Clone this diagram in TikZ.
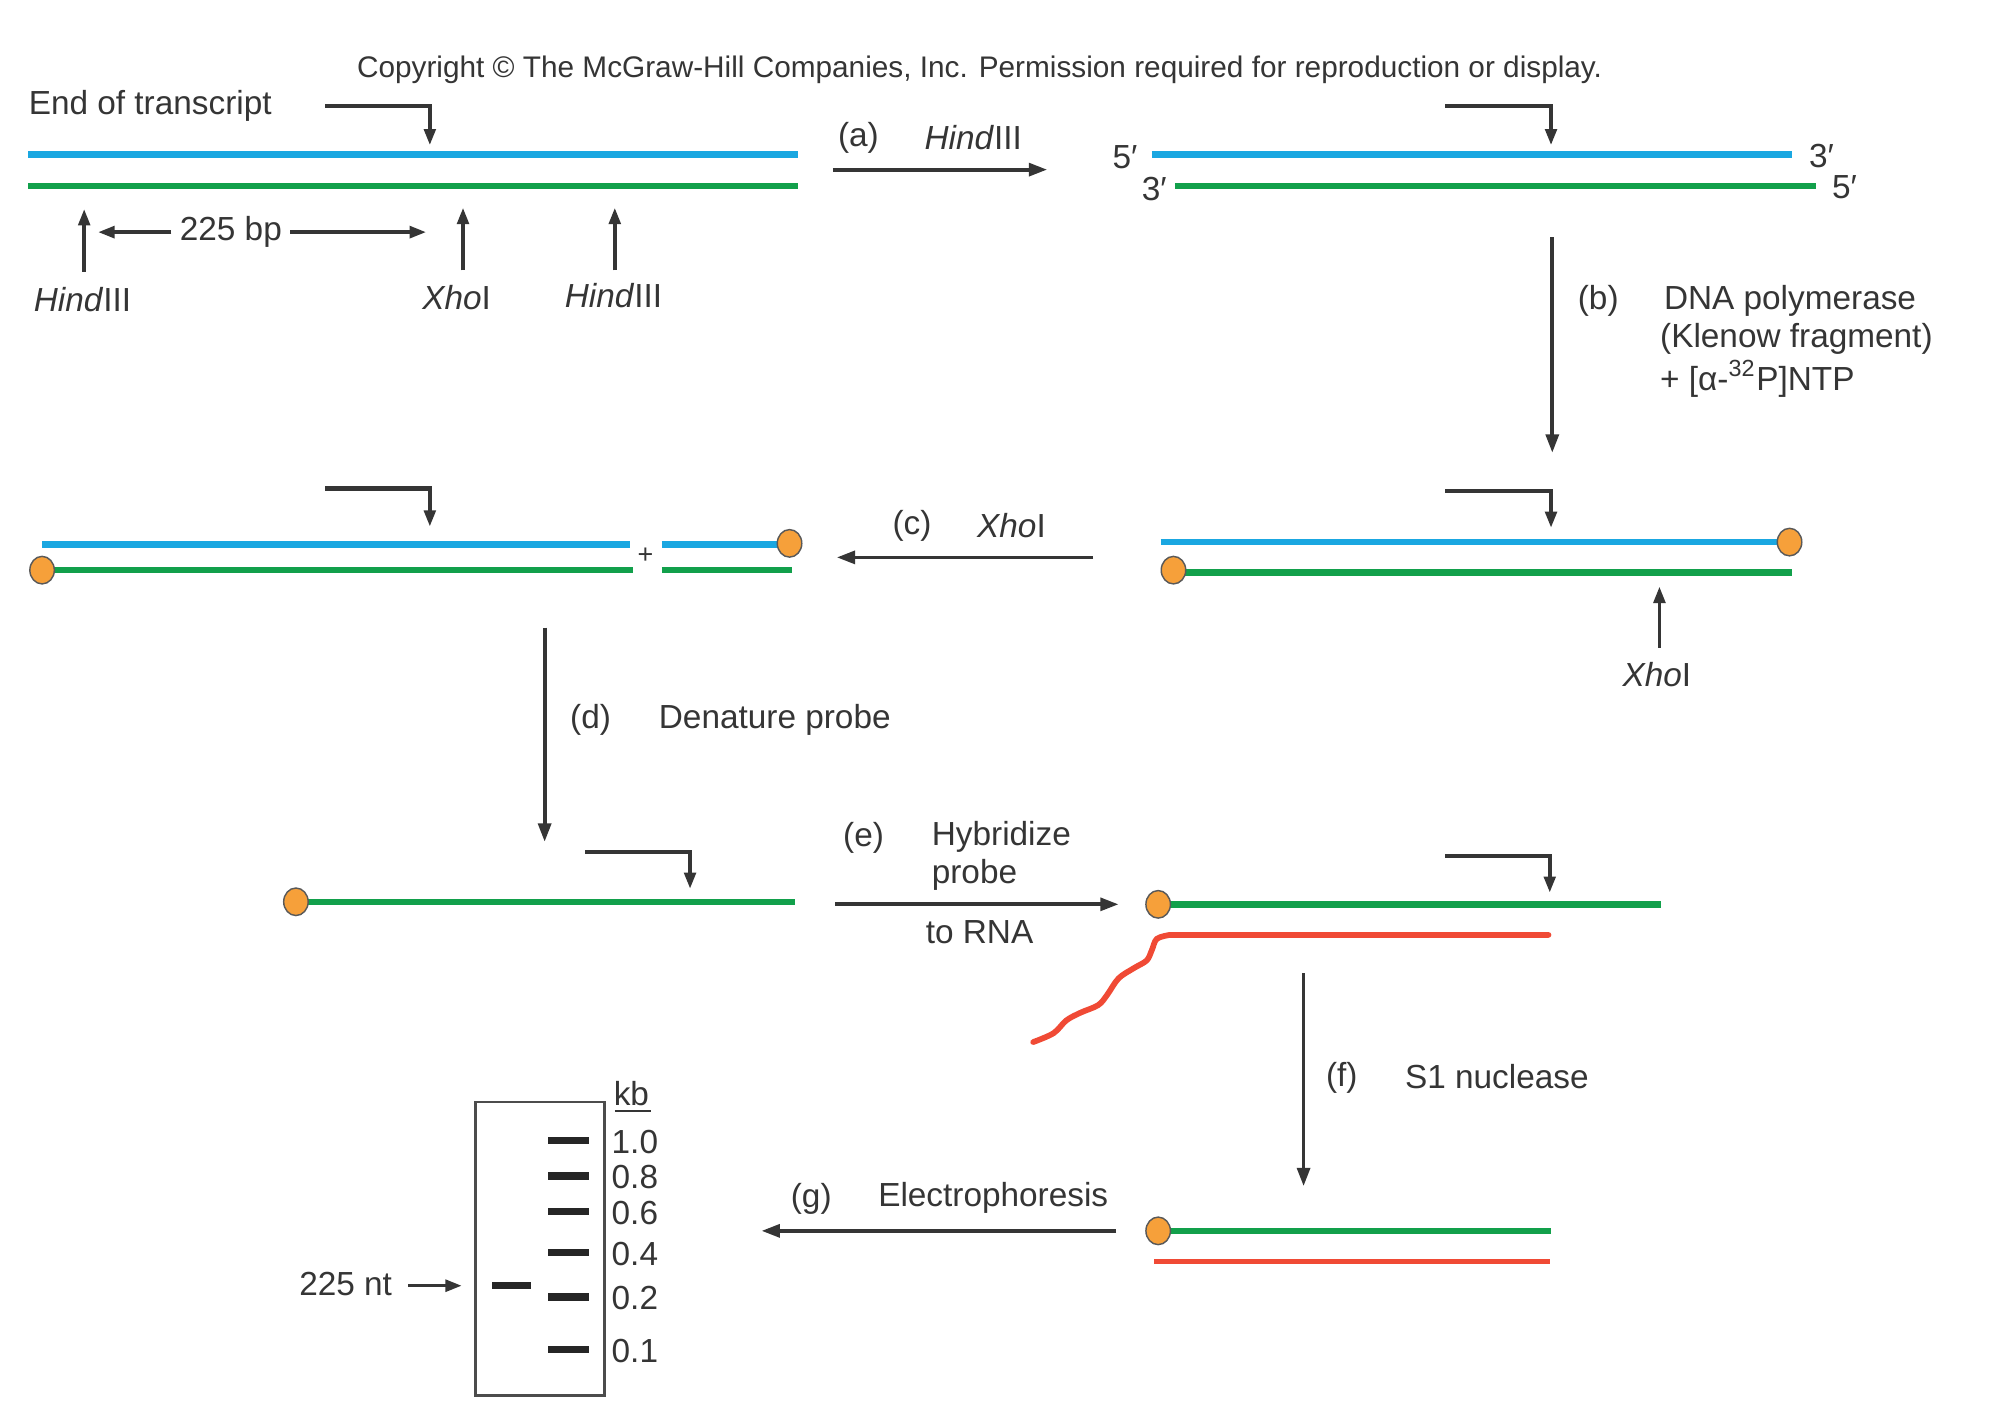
\documentclass[tikz,border=0pt]{standalone}
\usepackage{fontspec}
\setmainfont{Liberation Sans}
\usetikzlibrary{arrows.meta,shapes.geometric}
\definecolor{dnablue}{HTML}{1AA7E1}
\definecolor{dnagreen}{HTML}{12A04B}
\definecolor{rnared}{HTML}{F04A35}
\definecolor{dotorange}{HTML}{F6A03A}
\definecolor{ink}{HTML}{353535}
\begin{document}
\begin{tikzpicture}[x=0.125mm,y=-0.125mm,
  every node/.style={font=\fontsize{9.3}{11}\selectfont, text=ink, inner sep=0pt},
  bluestrand/.style={dnablue, line width=1.8pt},
  greenstrand/.style={dnagreen, line width=1.8pt},
  redstrand/.style={rnared, line width=1.6pt},
  steparrow/.style={ink, line width=1.05pt, -{Triangle[length=1.8mm,width=1.25mm]}},
  smallarrow/.style={ink, line width=0.95pt, -{Triangle[length=1.6mm,width=1.15mm]}},
  bentarrow/.style={ink, line width=1.2pt, -{Triangle[length=1.6mm,width=1.1mm]}},
  labeldot/.style={ellipse, draw=black!65, line width=0.4pt, fill=dotorange, minimum width=2.4mm, minimum height=2.7mm},
  gelband/.style={black!85, line width=2.1pt}]
\useasboundingbox[fill=white] (0,0) rectangle (1568,1102);

% copyright
\node[font=\fontsize{8.3}{10}\selectfont] (copy) at (768,55) {Copyright \textcopyright{} The McGraw-Hill Companies, Inc. Permission required for reproduction or display.};

% ---------- panel 1 (top left) ----------
\node[anchor=west] (eot) at (22,83) {End of transcript};
\coordinate (b1s) at (255,83); \coordinate (b1c) at (337,83); \coordinate (b1e) at (337,114);
\draw[bentarrow] (b1s) -- (b1c) -- (b1e);
\coordinate (p1bl) at (22,121); \coordinate (p1br) at (626,121);
\coordinate (p1gl) at (22,146); \coordinate (p1gr) at (626,146);
\draw[bluestrand] (p1bl) -- (p1br);
\draw[greenstrand] (p1gl) -- (p1gr);
\node[anchor=west] (h1) at (26,235) {\textit{Hind}III};
\node (x1) at (358,233) {\textit{Xho}I};
\node (h2) at (481,232) {\textit{Hind}III};
\coordinate (h1t) at (66,164); \coordinate (h1b) at (66,213);
\coordinate (x1t) at (363,163); \coordinate (x1b) at (363,212);
\coordinate (h2t) at (482,163); \coordinate (h2b) at (482,212);
\draw[smallarrow] (h1b) -- (h1t);
\draw[smallarrow] (x1b) -- (x1t);
\draw[smallarrow] (h2b) -- (h2t);
\node (bp) at (181,182) {225 bp};
\coordinate (bpl) at (77,182); \coordinate (bpr) at (334,182);
\draw[smallarrow] (bp.west) ++(-6,0) -- (bpl);
\draw[smallarrow] (bp.east) ++(6,0) -- (bpr);

% step (a)
\coordinate (as) at (653,133); \coordinate (ae) at (821,133);
\draw[steparrow] (as) -- (ae);
\node (alab) at (673,108) {(a)};
\node (aenz) at (763,108) {\textit{Hind}III};

% ---------- panel 2 (top right) ----------
\coordinate (b2s) at (1133,83); \coordinate (b2c) at (1216,83); \coordinate (b2e) at (1216,114);
\draw[bentarrow] (b2s) -- (b2c) -- (b2e);
\coordinate (p2bl) at (903,121); \coordinate (p2br) at (1405,121);
\coordinate (p2gl) at (921,146); \coordinate (p2gr) at (1424,146);
\draw[bluestrand] (p2bl) -- (p2br);
\draw[greenstrand] (p2gl) -- (p2gr);
\node (f5a) at (882,123) {5′};
\node (f3a) at (1428,122) {3′};
\node (f3b) at (905,148) {3′};
\node (f5b) at (1446,147) {5′};

% step (b)
\coordinate (bs) at (1217,186); \coordinate (be) at (1217,355);
\draw[steparrow] (bs) -- (be);
\node (blab) at (1253,236) {(b)};
\node[anchor=west] (bt1) at (1304,236) {DNA polymerase};
\node[anchor=west] (bt2) at (1301,266) {(Klenow fragment)};
\node[anchor=west] (bt3) at (1301,297) {+ [α-\textsuperscript{32}P]NTP};

% ---------- panel 3 (middle right) ----------
\coordinate (b3s) at (1133,385); \coordinate (b3c) at (1216,385); \coordinate (b3e) at (1216,414);
\draw[bentarrow] (b3s) -- (b3c) -- (b3e);
\coordinate (p3bl) at (910,425); \coordinate (p3br) at (1403,425);
\coordinate (p3gl) at (920,449); \coordinate (p3gr) at (1405,449);
\draw[bluestrand] (p3bl) -- (p3br);
\draw[greenstrand] (p3gl) -- (p3gr);
\node[labeldot] (d3a) at (p3br) {};
\node[labeldot] (d3b) at (920,447) {};
\node (x3) at (1299,529) {\textit{Xho}I};
\coordinate (x3t) at (1301,460); \coordinate (x3b) at (1301,508);
\draw[smallarrow] (x3b) -- (x3t);

% step (c)
\coordinate (cs) at (857,437); \coordinate (ce) at (656,437);
\draw[steparrow] (cs) -- (ce);
\node (clab) at (715,412) {(c)};
\node (cenz) at (793,412) {\textit{Xho}I};

% ---------- panel 4 (middle left) ----------
\coordinate (b4s) at (255,383); \coordinate (b4c) at (337,383); \coordinate (b4e) at (337,413);
\draw[bentarrow] (b4s) -- (b4c) -- (b4e);
\coordinate (p4bl) at (33,427); \coordinate (p4br) at (494,427);
\coordinate (p4gl) at (33,447); \coordinate (p4gr) at (496,447);
\coordinate (p4sbl) at (519,427); \coordinate (p4sbr) at (618,427);
\coordinate (p4sgl) at (519,447); \coordinate (p4sgr) at (621,447);
\draw[bluestrand] (p4bl) -- (p4br);
\draw[greenstrand] (p4gl) -- (p4gr);
\draw[bluestrand] (p4sbl) -- (p4sbr);
\draw[greenstrand] (p4sgl) -- (p4sgr);
\node[labeldot] (d4a) at (619,426) {};
\node[labeldot] (d4b) at (p4gl) {};
\node[font=\fontsize{7.5}{8}\selectfont] (plus) at (506,436) {+};

% step (d)
\coordinate (ds) at (427,492); \coordinate (de) at (427,660);
\draw[steparrow] (ds) -- (de);
\node (dlab) at (463,564) {(d)};
\node[anchor=west] (dtxt) at (516,564) {Denature probe};

% ---------- panel 5 (lower left) ----------
\coordinate (b5s) at (459,668); \coordinate (b5c) at (541,668); \coordinate (b5e) at (541,697);
\draw[bentarrow] (b5s) -- (b5c) -- (b5e);
\coordinate (p5gl) at (232,707); \coordinate (p5gr) at (623,707);
\draw[greenstrand] (p5gl) -- (p5gr);
\node[labeldot] (d5) at (p5gl) {};

% step (e)
\coordinate (es) at (655,709); \coordinate (ee) at (877,709);
\draw[steparrow] (es) -- (ee);
\node (elab) at (677,657) {(e)};
\node[anchor=west] (et1) at (730,656) {Hybridize};
\node[anchor=west] (et2) at (730,686) {probe};
\node (et3) at (768,731) {to RNA};

% ---------- panel 6 (lower right) ----------
\coordinate (b6s) at (1133,671); \coordinate (b6c) at (1215,671); \coordinate (b6e) at (1215,700);
\draw[bentarrow] (b6s) -- (b6c) -- (b6e);
\coordinate (p6gl) at (908,709); \coordinate (p6gr) at (1302,709);
\draw[greenstrand] (p6gl) -- (p6gr);
\node[labeldot] (d6) at (p6gl) {};
\coordinate (p6rr) at (1214,733);
\draw[redstrand, line cap=round] plot[smooth, tension=0.55] coordinates {(810,817) (826,810) (836,800) (847,794) (861,788) (868,780) (877,767) (889,759) (899,753) (903,745) (907,736) (917,733)} -- (p6rr);

% step (f)
\coordinate (fs) at (1022,763); \coordinate (fe) at (1022,930);
\draw[steparrow] (fs) -- (fe);
\node (flab) at (1052,845) {(f)};
\node[anchor=west] (ftxt) at (1101,844) {S1 nuclease};

% ---------- panel 7 (bottom right) ----------
\coordinate (p7gl) at (908,965); \coordinate (p7gr) at (1216,965);
\coordinate (p7rl) at (905,989); \coordinate (p7rr) at (1215,989);
\draw[greenstrand] (p7gl) -- (p7gr);
\draw[redstrand] (p7rl) -- (p7rr);
\node[labeldot] (d7) at (p7gl) {};

% step (g)
\coordinate (gs) at (875,965); \coordinate (ge) at (597,965);
\draw[steparrow] (gs) -- (ge);
\node (glab) at (636,940) {(g)};
\node[anchor=west] (gtxt) at (688,939) {Electrophoresis};

% ---------- gel ----------
\node[draw=black!70, line width=0.7pt, minimum width=101*0.125mm, minimum height=230*0.125mm, anchor=north west] (gel) at (372,863) {};
\node (kb) at (495,857) {kb};
\coordinate (kbl) at (482,871); \coordinate (kbr) at (510,871);
\draw[ink, line width=0.6pt] (kbl) -- (kbr);
\foreach \y/\t in {894/1.0, 922/0.8, 950/0.6, 982/0.4, 1017/0.2, 1058/0.1} {
  \draw[gelband] (430,\y) -- (462,\y);
  \node[anchor=west] at (479,\y+1) {\t};
}
\coordinate (sbl) at (386,1008); \coordinate (sbr) at (416,1008);
\draw[gelband] (sbl) -- (sbr);
\node (nt) at (271,1007) {225 nt};
\coordinate (ntt) at (362,1008);
\draw[smallarrow] (nt.east) ++(12,1) -- (ntt);
\end{tikzpicture}
\end{document}
